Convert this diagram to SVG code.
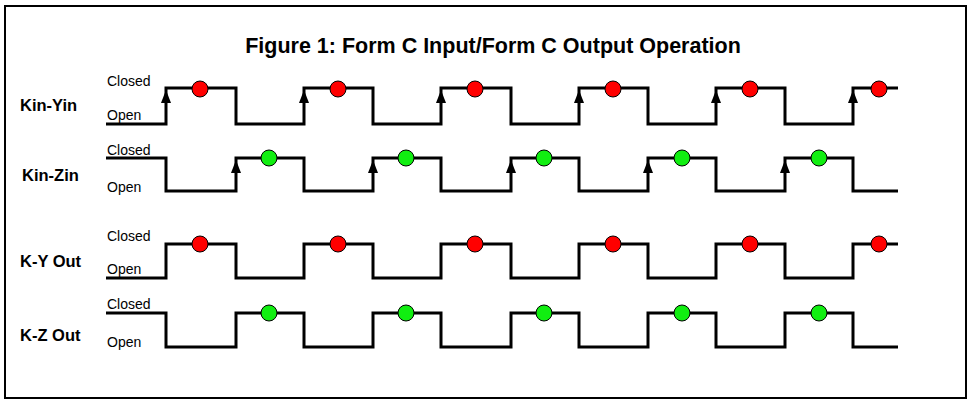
<svg xmlns="http://www.w3.org/2000/svg" width="973" height="411" viewBox="0 0 973 411">
<style>
.w{fill:none;stroke:#000;stroke-width:3}
.s{font-family:"Liberation Sans",Arial,sans-serif;font-size:14px}
.l{font-family:"Liberation Sans",Arial,sans-serif;font-size:16.5px;font-weight:bold}
.r{fill:#f00;stroke:#000;stroke-width:1}
.g{fill:#1e1;stroke:#000;stroke-width:1}
</style>
<defs><path id="ar" d="M0,0 L-5,13 L5,13 Z" fill="#000"/></defs>
<rect x="5" y="6" width="961" height="392" fill="#fff" stroke="#000" stroke-width="2"/>
<text x="493" y="53" text-anchor="middle" font-family="Liberation Sans,Arial,sans-serif" font-size="21.5" font-weight="bold">Figure 1: Form C Input/Form C Output Operation</text>
<g class="s">
<text x="107" y="86">Closed</text><text x="107" y="120">Open</text>
<text x="107" y="155">Closed</text><text x="107" y="192">Open</text>
<text x="107" y="241">Closed</text><text x="107" y="274">Open</text>
<text x="107" y="309">Closed</text><text x="107" y="347">Open</text>
</g>
<g class="l">
<text x="20" y="111">Kin-Yin</text><text x="22" y="181">Kin-Zin</text>
<text x="20" y="267">K-Y Out</text><text x="20" y="341">K-Z Out</text>
</g>
<g id="connectors">
<path class="w" d="M106,124H166V88H236V124H304V88H373V124H441V88H511V124H579V88H648V124H716V88H785V124H853V88H898"/>
<path class="w" d="M106,158H166V191H236V158H304V191H373V158H441V191H511V158H579V191H648V158H716V191H785V158H853V191H898"/>
<path class="w" d="M106,278H166V244H236V278H304V244H373V278H441V244H511V278H579V244H648V278H716V244H785V278H853V244H898"/>
<path class="w" d="M106,313H166V347H236V313H304V347H373V313H441V347H511V313H579V347H648V313H716V347H785V313H853V347H898"/>
<g>
<use href="#ar" x="166" y="90"/><use href="#ar" x="304" y="90"/><use href="#ar" x="441" y="90"/><use href="#ar" x="579" y="90"/><use href="#ar" x="716" y="90"/><use href="#ar" x="853" y="90"/>
<use href="#ar" x="236" y="160"/><use href="#ar" x="373" y="160"/><use href="#ar" x="511" y="160"/><use href="#ar" x="648" y="160"/><use href="#ar" x="785" y="160"/>
</g>
</g>
<g id="dots">
<circle class="r" cx="200" cy="89" r="8"/><circle class="r" cx="338" cy="89" r="8"/><circle class="r" cx="475" cy="89" r="8"/><circle class="r" cx="613" cy="89" r="8"/><circle class="r" cx="750" cy="89" r="8"/><circle class="r" cx="879" cy="89" r="8"/>
<circle class="g" cx="269" cy="158" r="8"/><circle class="g" cx="406" cy="158" r="8"/><circle class="g" cx="544" cy="158" r="8"/><circle class="g" cx="682" cy="158" r="8"/><circle class="g" cx="819" cy="158" r="8"/>
<circle class="r" cx="200" cy="244" r="8"/><circle class="r" cx="338" cy="244" r="8"/><circle class="r" cx="475" cy="244" r="8"/><circle class="r" cx="613" cy="244" r="8"/><circle class="r" cx="750" cy="244" r="8"/><circle class="r" cx="879" cy="244" r="8"/>
<circle class="g" cx="269" cy="313" r="8"/><circle class="g" cx="406" cy="313" r="8"/><circle class="g" cx="544" cy="313" r="8"/><circle class="g" cx="682" cy="313" r="8"/><circle class="g" cx="819" cy="313" r="8"/>
</g>
</svg>
